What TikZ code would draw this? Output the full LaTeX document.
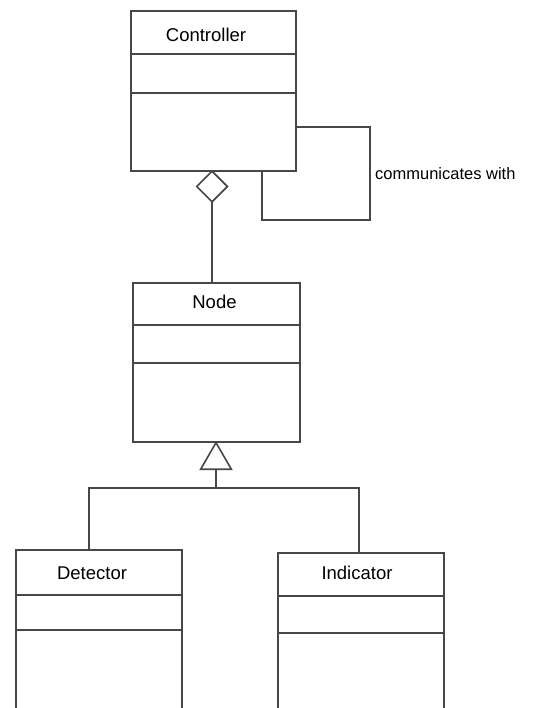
\documentclass[tikz,border=0pt]{standalone}
\usepackage{fontspec}
\setmainfont{Liberation Sans}
\usetikzlibrary{arrows.meta,shapes.geometric}
\begin{document}
\begin{tikzpicture}[x=1pt,y=-1pt,
  ln/.style={draw=black!72,line width=1.6pt},
  cls/.style={ln,rectangle,anchor=north west,inner sep=0pt,fill=white},
  lbl/.style={font=\fontsize{18.5}{22}\selectfont,text=black,inner sep=0pt},
  albl/.style={font=\fontsize{16.5}{20}\selectfont,text=black,inner sep=0pt}]
\clip (0,0) rectangle (535,708);
\fill[white] (0,0) rectangle (535,708);
% Controller
\node[cls,minimum width=165pt,minimum height=160pt] (ctrl) at (130,10) {};
\node[lbl] (ctrlname) at (206,35) {Controller};
\draw[ln] (130,54) -- (295,54);
\draw[ln] (130,93) -- (295,93);
% Node
\node[cls,minimum width=167pt,minimum height=159pt] (nd) at (132,282) {};
\node[lbl] (ndname) at (214.5,302) {Node};
\draw[ln] (132,325) -- (299,325);
\draw[ln] (132,363) -- (299,363);
% Detector
\node[cls,minimum width=166pt,minimum height=180pt] (det) at (15,549) {};
\node[lbl] (detname) at (92,573) {Detector};
\draw[ln] (15,595) -- (181,595);
\draw[ln] (15,630) -- (181,630);
% Indicator
\node[cls,minimum width=166pt,minimum height=180pt] (ind) at (277,552) {};
\node[lbl] (indname) at (357,573) {Indicator};
\draw[ln] (277,596) -- (443,596);
\draw[ln] (277,633) -- (443,633);
% aggregation
\coordinate (aggtop) at (212,170);
\coordinate (aggbot) at (212,282);
\draw[ln,-{Diamond[open,length=33pt,width=33pt,line width=1.6pt]}] (aggbot) -- (aggtop);
% self association
\coordinate (lp0) at (295,127);
\coordinate (lp1) at (370,127);
\coordinate (lp2) at (370,220);
\coordinate (lp3) at (262,220);
\coordinate (lp4) at (262,170);
\draw[ln] (lp0) -- (lp1) -- (lp2) -- (lp3) -- (lp4);
\node[albl,anchor=west] (comm) at (375,174) {communicates with};
% generalization
\coordinate (gen) at (216,488);
\coordinate (gentop) at (216,441);
\coordinate (gl) at (89,488);
\coordinate (gr) at (359,488);
\draw[ln,-{Triangle[open,length=29pt,width=33pt,line width=1.6pt]}] (gen) -- (gentop);
\draw[ln] (gl |- det.north) -- (gl) -- (gr) -- (gr |- ind.north);
\end{tikzpicture}
\end{document}
